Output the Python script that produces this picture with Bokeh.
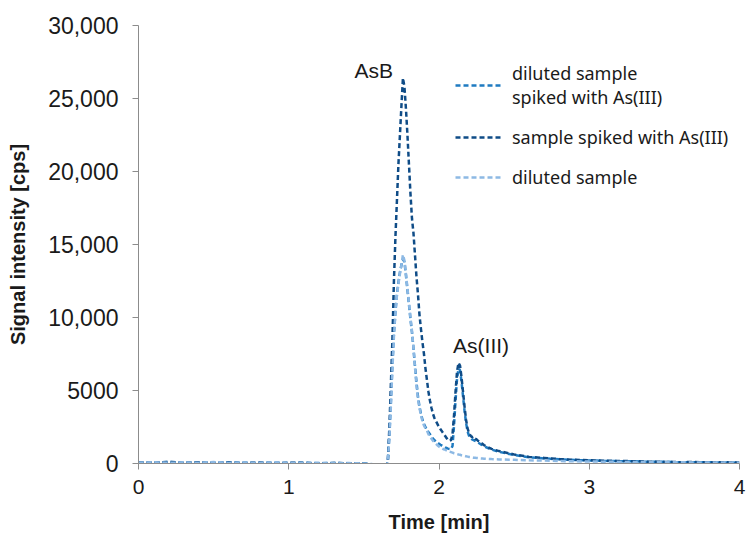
from bokeh.plotting import figure
from bokeh.models import Legend, LegendItem, Label, FixedTicker, NumeralTickFormatter, Range1d
from bokeh.embed import file_html
from bokeh.resources import INLINE

time_min = [0.0, 0.1, 0.2, 0.3, 0.4, 0.5, 0.6, 0.7, 0.8, 0.9, 1.0, 1.1, 1.2, 1.3, 1.4, 1.5,
            1.55, 1.60, 1.62, 1.64, 1.65,
            1.66, 1.67, 1.68, 1.69, 1.70, 1.71, 1.72, 1.73, 1.74, 1.75,
            1.76, 1.77, 1.78, 1.79, 1.80, 1.81, 1.82, 1.83, 1.84, 1.85,
            1.86, 1.87, 1.88, 1.89, 1.90, 1.91, 1.92, 1.93, 1.94, 1.95,
            1.96, 1.97, 1.98, 1.99, 2.00, 2.01, 2.02, 2.03, 2.04, 2.05,
            2.06, 2.07, 2.08, 2.09, 2.10, 2.11, 2.12, 2.13, 2.14, 2.15,
            2.16, 2.17, 2.18, 2.19, 2.20, 2.21, 2.22, 2.23, 2.24, 2.25,
            2.26, 2.27, 2.28, 2.29, 2.30,
            2.35, 2.40,
            2.5, 2.6, 2.7, 2.8, 2.9, 3.0, 3.1, 3.2, 3.3, 3.4, 3.5, 3.6, 3.7, 3.8, 3.9, 4.0]

diluted_spiked = [70, 50, 100, 60, 80, 40, 90, 50, 40, 60, 30, 50, 20, 40, 10, 20,
                  -60, -140, -200, -260, -240,
                  250, 2000, 4300, 6800, 8900, 10400, 11600, 12400, 13100, 13600,
                  14000, 13800, 12900, 11900, 10900, 9900, 9000, 7900, 6700, 5600,
                  4600, 3900, 3400, 3000, 2700, 2500, 2300, 2150, 2000, 1850,
                  1700, 1600, 1500, 1420, 1350, 1280, 1220, 1160, 1100, 1060,
                  1020, 1000, 980, 1200, 2600, 4300, 5800, 6500, 6400, 5600,
                  4600, 3600, 2800, 2200, 1900, 1750, 1650, 1600, 1550, 1500,
                  1430, 1370, 1300, 1250, 1180,
                  950, 800,
                  580, 430, 350, 290, 240, 210, 180, 160, 150, 110, 120, 80, 90, 80, 70, 50]

sample_spiked = [80, 60, 110, 40, 90, 50, 70, 30, 60, 20, 50, 40, 10, 30, 20, -10,
                 -50, -150, -200, -280, -250,
                 300, 2500, 5500, 8500, 12500, 15500, 18000, 20500, 22500, 24500,
                 26400, 25800, 24300, 22500, 20500, 18500, 16800, 15800, 14300, 12800,
                 11600, 10200, 9200, 8300, 7500, 6500, 5700, 4900, 4300, 3800,
                 3400, 3100, 2900, 2700, 2500, 2350, 2200, 2050, 1900, 1750,
                 1600, 1550, 1600, 2000, 3300, 4900, 6300, 6900, 6700, 5900,
                 4900, 3900, 3000, 2400, 2100, 1900, 1800, 1850, 1700, 1650,
                 1550, 1500, 1400, 1350, 1250,
                 1000, 850,
                 620, 450, 380, 300, 250, 220, 190, 170, 160, 120, 110, 90, 100, 70, 90, 60]

diluted = [60, 90, 40, 80, 50, 100, 40, 70, 30, 80, 40, 20, 50, 10, 30, 0,
           -40, -120, -180, -250, -230,
           200, 1800, 4000, 6500, 8700, 10300, 11500, 12300, 13000, 13600,
           14300, 13900, 13000, 12000, 11000, 10000, 9100, 7900, 6600, 5300,
           4400, 3800, 3300, 2900, 2600, 2400, 2250, 2000, 1850, 1700,
           1550, 1450, 1350, 1250, 1150, 1100, 1050, 980, 950, 900,
           850, 820, 780, 740, 700, 680, 650, 620, 600, 560,
           540, 520, 490, 470, 450, 440, 420, 400, 390, 380,
           370, 360, 350, 340, 330,
           300, 280,
           250, 220, 200, 170, 150, 140, 120, 110, 100, 90, 80, 90, 70, 60, 70, 50]

series_labels = ["diluted sample\nspiked with As(III)", "sample spiked with As(III)", "diluted sample"]
series_colors = ["#1F7BC1", "#0F4C87", "#8DB9E4"]
x_ticks = [0, 1, 2, 3, 4]
y_ticks = [0, 5000, 10000, 15000, 20000, 25000, 30000]
peak_labels = ["AsB", "As(III)"]

p = figure(width=748, height=535, output_backend="svg", toolbar_location=None,
           x_range=Range1d(0, 4), y_range=Range1d(0, 30000),
           min_border_left=138, min_border_right=9, min_border_top=25, min_border_bottom=72)
p.background_fill_color = "white"
p.border_fill_color = "white"
p.outline_line_color = None
p.xgrid.visible = False
p.ygrid.visible = False

renderers = []
for vals, col in zip([diluted_spiked, sample_spiked, diluted], series_colors):
    r = p.line(time_min, vals, line_color=col, line_width=2.5, line_dash="5 3")
    renderers.append(r)

font = "Liberation Sans"
for ax in (p.xaxis[0], p.yaxis[0]):
    ax.axis_line_color = "#8C8C8C"
    ax.major_tick_line_color = "#8C8C8C"
    ax.minor_tick_line_color = None
    ax.major_tick_in = 0
    ax.major_tick_out = 6
    ax.major_label_text_font = font
    ax.major_label_text_color = "#1A1A1A"
    ax.axis_label_text_font = font
    ax.axis_label_text_font_style = "bold"
    ax.axis_label_text_color = "#1A1A1A"
    ax.axis_label_text_font_size = "20px"

p.xaxis.ticker = FixedTicker(ticks=x_ticks)
p.yaxis.ticker = FixedTicker(ticks=y_ticks)
p.yaxis.formatter = NumeralTickFormatter(format="0,0")
p.yaxis.major_label_overrides = {5000: "5000"}
p.xaxis.major_label_text_font_size = "21px"
p.yaxis.major_label_text_font_size = "23px"
p.xaxis.major_label_standoff = 10
p.yaxis.major_label_standoff = 14
p.xaxis.axis_label = "Time [min]"
p.yaxis.axis_label = "Signal intensity [cps]"
p.xaxis.axis_label_standoff = 14
p.yaxis.axis_label_standoff = 16

legend = Legend(items=[LegendItem(label=l, renderers=[r]) for l, r in zip(series_labels, renderers)],
                location=(317, 274), orientation="vertical")
legend.border_line_color = None
legend.background_fill_alpha = 0
legend.padding = 0
legend.margin = 0
legend.spacing = 16
legend.glyph_width = 48
legend.label_standoff = 9
legend.label_text_font = "Noto Sans"
legend.label_text_font_size = "18px"
legend.label_text_color = "#1A1A1A"
p.add_layout(legend, "center")

for txt, xx, yy in zip(peak_labels, [1.565, 2.28], [26900, 8100]):
    p.add_layout(Label(x=xx, y=yy, text=txt, text_align="center", text_baseline="middle",
                       text_font=font, text_font_size="21px", text_color="#1A1A1A"))

open("out.html", "w").write(file_html(p, INLINE))
